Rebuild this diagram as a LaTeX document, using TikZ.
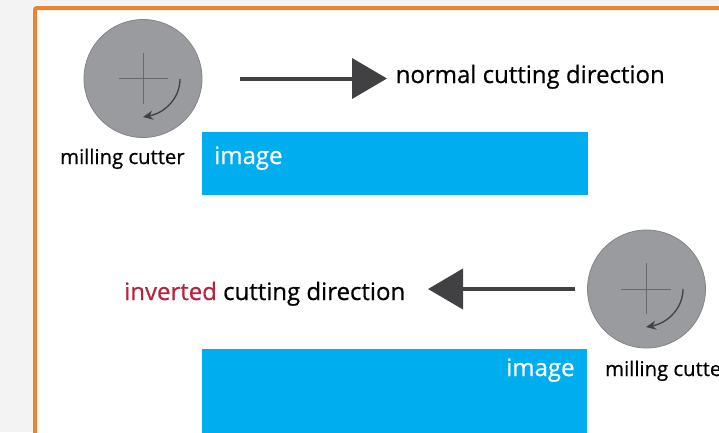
\documentclass[tikz,border=0pt]{standalone}
\usepackage{fontspec}
\setmainfont{Open Sans}
\usetikzlibrary{arrows.meta}
\definecolor{framec}{HTML}{E98433}
\definecolor{pagec}{HTML}{F3F3F3}
\definecolor{bluec}{HTML}{00AEEF}
\definecolor{cutc}{HTML}{9A9B9E}
\definecolor{darkc}{HTML}{414042}
\definecolor{redc}{HTML}{B5253F}
\newcommand{\heavier}{\addfontfeature{FakeBold=0.6}}
\tikzset{
  big/.style={inner sep=0pt,anchor=base west,text=black,font=\fontsize{24}{28}\selectfont\heavier},
  small/.style={inner sep=0pt,anchor=base west,text=black,font=\fontsize{20.3}{24}\selectfont\heavier},
  imgtext/.style={inner sep=0pt,anchor=base west,text=white,font=\fontsize{24}{28}\selectfont\heavier},
  imgbox/.style={fill=bluec,draw=none},
  cutter/.style={circle,fill=cutc,draw=cutc!85!black,line width=.8pt,minimum size=118pt,inner sep=0pt},
  crossl/.style={draw=darkc!55!cutc,line width=.9pt},
  spin/.style={draw=darkc,line width=1.3pt,-{Stealth[length=10pt,width=9pt]}},
  dirarrow/.style={draw=darkc,line width=4pt,-{Triangle[length=35pt,width=40pt]}},
}
\begin{document}
\begin{tikzpicture}[x=1pt,y=-1pt]
\useasboundingbox (0,0) rectangle (719,432);
\clip (0,0) rectangle (719,432);
\fill[pagec] (0,0) rectangle (719,432);
\draw[framec,line width=4pt,rounded corners=2pt,fill=white] (35,8) rectangle (740,460);
% top group
\node[cutter] (c1) at (143,78.5) {};
\draw[crossl] (118.5,78.5) -- (168,78.5);
\draw[crossl] (143,53) -- (143,103.5);
\coordinate (s1) at (180,79);
\coordinate (e1) at (143,117);
\draw[spin] (s1) .. controls (180,98) and (165,113) .. (e1);
\node[small] (l1) at (60,164) {milling cutter};
\coordinate (a1s) at (240,78.5);
\coordinate (a1e) at (387,78.5);
\draw[dirarrow] (a1s) -- (a1e);
\node[big] (t1) at (395.5,83) {normal cutting direction};
\fill[imgbox] (202,132) rectangle (588,195);
\node[imgtext] (i1) at (214,164) {image};
% bottom group
\node[cutter] (c2) at (646.5,289) {};
\draw[crossl] (621,289) -- (671,289);
\draw[crossl] (646.5,263) -- (646.5,314);
\coordinate (s2) at (683,289);
\coordinate (e2) at (646,327);
\draw[spin] (s2) .. controls (683,308) and (668,323) .. (e2);
\node[small] (l2) at (605,376) {milling cutter};
\coordinate (a2s) at (575,289);
\coordinate (a2e) at (428,289);
\draw[dirarrow] (a2s) -- (a2e);
\node[big] (t2) at (124,300) {\textcolor{redc}{inverted} cutting direction};
\fill[imgbox] (202,349) rectangle (587,440);
\node[imgtext] (i2) at (506,376) {image};
\end{tikzpicture}
\end{document}
